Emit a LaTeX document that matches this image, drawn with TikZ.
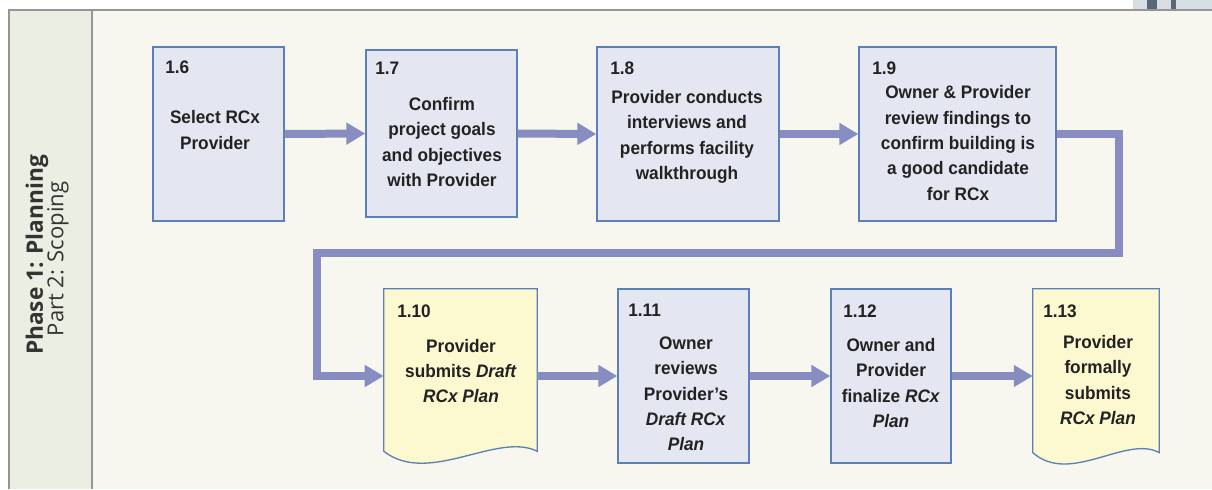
\documentclass[tikz,border=0pt]{standalone}
\usepackage{fontspec}
\setmainfont{Liberation Sans}[FakeStretch=0.95]
\newfontfamily\bandfont{Open Sans}
\usetikzlibrary{arrows.meta}
\definecolor{bandfill}{RGB}{235,238,226}
\definecolor{mainfill}{RGB}{247,247,240}
\definecolor{framegray}{RGB}{150,150,150}
\definecolor{boxfill}{RGB}{228,231,242}
\definecolor{docfill}{RGB}{252,248,208}
\definecolor{boxline}{RGB}{92,128,182}
\definecolor{flowblue}{RGB}{135,141,192}
\definecolor{txt}{RGB}{34,34,34}
\definecolor{fraglight}{RGB}{214,222,228}
\definecolor{fragdark}{RGB}{88,104,120}
\tikzset{
  stepbox/.style={draw=boxline,line width=1pt,fill=boxfill,inner sep=0},
  docbox/.style={inner sep=0},
  docline/.style={draw=boxline,line width=1pt,fill=docfill},
  num/.style={anchor=west,inner sep=0,text=txt},
  desc/.style={align=center,inner sep=0,text=txt},
  flow/.style={draw=flowblue,line width=6pt,-{Triangle[length=14.25pt,width=15.75pt]}}
}
\begin{document}
\begin{tikzpicture}[x=0.75pt,y=-0.75pt,font=\bfseries\fontsize{13.6}{19}\selectfont]
\useasboundingbox (0,0) rectangle (1212,489);
\fill[white] (0,0) rectangle (1212,489);
\fill[fraglight] (1133,0) rectangle (1212,9);
\fill[fragdark] (1147,0) rectangle (1157,9);
\fill[fragdark] (1171,0) rectangle (1176,9);
\fill[mainfill] (9,10) rectangle (1212,489);
\fill[bandfill] (9,10) rectangle (92,489);
\draw[framegray,line width=1.5pt] (9,489) -- (9,10) -- (1212,10);
\draw[framegray,line width=1pt] (92,10) -- (92,489);

\node[rotate=90,text=black!80,font=\bandfont\bfseries\fontsize{17}{20}\selectfont] (phase) at (37,255) {Phase 1: Planning};
\node[rotate=90,text=black!80,font=\bandfont\fontsize{16.5}{20}\selectfont] (part) at (58,259) {Part 2: Scoping};

\node[stepbox,minimum width=98.25pt,minimum height=130.5pt] (b16) at (218.5,134) {};
\node[stepbox,minimum width=113.25pt,minimum height=125.25pt] (b17) at (441.5,133.5) {};
\node[stepbox,minimum width=136.5pt,minimum height=130.5pt] (b18) at (688,134) {};
\node[stepbox,minimum width=147.75pt,minimum height=130.5pt] (b19) at (957.5,134) {};

\node[docbox,minimum width=114.75pt,minimum height=130.5pt] (b110) at (460.5,376) {};
\draw[docline] (b110.north west) -- ([yshift=9pt]b110.south west) .. controls +(45,35) and +(-40,-20) .. ([yshift=9pt]b110.south east) -- (b110.north east) -- cycle;
\node[stepbox,minimum width=98.25pt,minimum height=130.5pt] (b111) at (683.5,376) {};
\node[stepbox,minimum width=90pt,minimum height=130.5pt] (b112) at (891,376) {};
\node[docbox,minimum width=94.5pt,minimum height=130.5pt] (b113) at (1096,376) {};
\draw[docline] (b113.north west) -- ([yshift=8pt]b113.south west) .. controls +(37,33) and +(-33,-18) .. ([yshift=8pt]b113.south east) -- (b113.north east) -- cycle;

\node[num] (n16) at (165,67) {1.6};
\node[num] (n17) at (375,68) {1.7};
\node[num] (n18) at (610,68) {1.8};
\node[num] (n19) at (872,68) {1.9};
\node[num] (n110) at (397,311) {1.10};
\node[num] (n111) at (628,310) {1.11};
\node[num] (n112) at (843,311) {1.12};
\node[num] (n113) at (1043,311) {1.13};

\node[desc] (t16) at (215,130) {Select RCx\\Provider};
\node[desc] (t17) at (442,142) {Confirm\\project goals\\and objectives\\with Provider};
\node[desc] (t18) at (687,137) {Provider conducts\\interviews and\\performs facility\\walkthrough};
\node[desc] (t19) at (958,143) {Owner \& Provider\\review findings to\\confirm building is\\a good candidate\\for RCx};
\node[desc] (t110) at (461,371) {Provider\\submits \textit{Draft}\\\textit{RCx Plan}};
\node[desc] (t111) at (686,394) {Owner\\reviews\\Provider’s\\\textit{Draft RCx}\\\textit{Plan}};
\node[desc] (t112) at (891,383) {Owner and\\Provider\\finalize \textit{RCx}\\\textit{Plan}};
\node[desc] (t113) at (1098,380) {Provider\\formally\\submits\\\textit{RCx Plan}};

\draw[flow] (b16.east) -- (b17.west);
\draw[flow] (b17.east) -- (b18.west);
\draw[flow] (b18.east) -- (b19.west);
\draw[flow] (b19.east) -| (1119,253) -| (317,376) -- (b110.west);
\draw[flow] (b110.east) -- (b111.west);
\draw[flow] (b111.east) -- (b112.west);
\draw[flow] (b112.east) -- (b113.west);
\end{tikzpicture}
\end{document}
